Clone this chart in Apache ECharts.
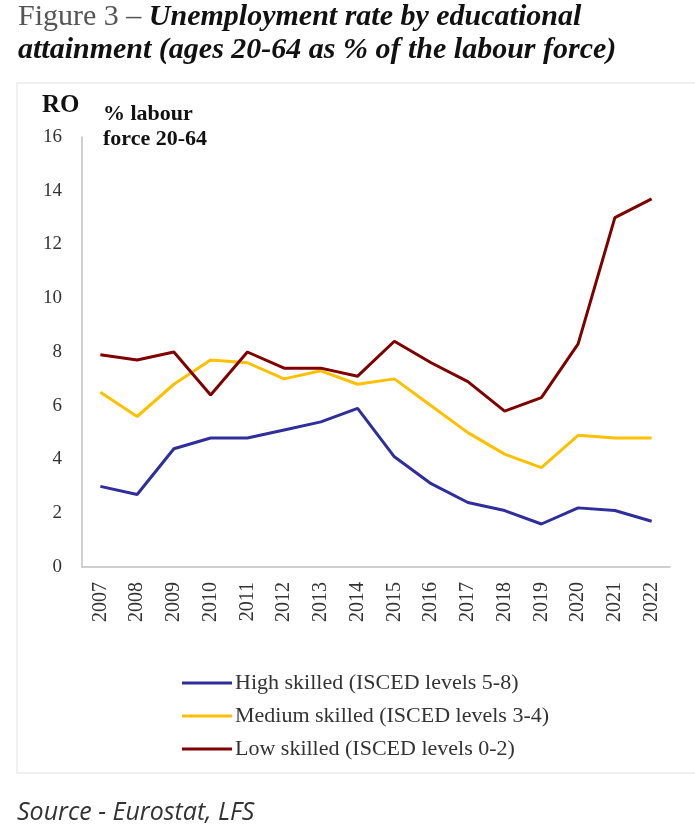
<!DOCTYPE html>
<html>
<head>
<meta charset="utf-8">
<script src="https://cdn.jsdelivr.net/npm/echarts@6/dist/echarts.min.js"></script>
<style>
	html, body { margin: 0; padding: 0; background: #fff; }
	#chart { width: 695px; height: 830px; }
</style>
</head>
<body>
<div id="chart"></div>
<script>
	const years = ['2007', '2008', '2009', '2010', '2011', '2012', '2013', '2014', '2015', '2016', '2017', '2018', '2019', '2020', '2021', '2022'];
	const highSkilled = [3.0, 2.7, 4.4, 4.8, 4.8, 5.1, 5.4, 5.9, 4.1, 3.1, 2.4, 2.1, 1.6, 2.2, 2.1, 1.7];
	const mediumSkilled = [6.5, 5.6, 6.8, 7.7, 7.6, 7.0, 7.3, 6.8, 7.0, 6.0, 5.0, 4.2, 3.7, 4.9, 4.8, 4.8];
	const lowSkilled = [7.9, 7.7, 8.0, 6.4, 8.0, 7.4, 7.4, 7.1, 8.4, 7.6, 6.9, 5.8, 6.3, 8.3, 13.0, 13.7];
	const seriesNames = ['High skilled (ISCED levels 5-8)', 'Medium skilled (ISCED levels 3-4)', 'Low skilled (ISCED levels 0-2)'];
	const seriesColors = ['#2e2e9c', '#ffc000', '#800000'];

	const serif = '"Liberation Serif", "DejaVu Serif", serif';
	const chart = echarts.init(document.querySelector('#chart'));

	/* 折线 */
	const makeLine = (name, data, color) => ({
		type: 'line',
		name: name,
		data: data,
		showSymbol: false,
		symbol: 'none',
		lineStyle: { width: 3, color: color },
		itemStyle: { color: color }
	});

	chart.setOption({
		animation: false,
		title: {
			left: 18,
			top: 1,
			padding: 0,
			text: '{n|Figure 3 – }{b|Unemployment rate by educational}\n{b|attainment (ages 20-64 as % of the labour force)}',
			textStyle: {
				rich: {
					n: { fontFamily: serif, fontSize: 30, fontWeight: 'normal', color: '#555', lineHeight: 33 },
					b: { fontFamily: serif, fontSize: 30, fontStyle: 'italic', fontWeight: 'bold', color: '#111', lineHeight: 33 }
				}
			}
		},
		graphic: [
			{
				type: 'rect',
				shape: { x: 17, y: 83, width: 700, height: 690 },
				style: { fill: 'none', stroke: '#ececec', lineWidth: 1.5 },
				silent: true
			},
			{
				type: 'text',
				left: 42,
				top: 93,
				style: { text: 'RO', font: 'bold 25px ' + serif, fill: '#111' }
			},
			{
				type: 'text',
				left: 103,
				top: 102,
				style: { text: '% labour\nforce 20-64', font: 'bold 22px ' + serif, fill: '#111', lineHeight: 25 }
			},
			{
				type: 'text',
				left: 17,
				top: 800,
				style: { text: 'Source - Eurostat, LFS', font: 'italic 25px "Open Sans", "Liberation Sans", sans-serif', fill: '#333' }
			}
		],
		legend: {
			orient: 'vertical',
			left: 177,
			top: 667,
			itemWidth: 50,
			itemHeight: 3,
			itemGap: 11,
			icon: 'rect',
			data: seriesNames,
			textStyle: { fontFamily: serif, fontSize: 22, color: '#333', padding: [0, 0, 0, -2] }
		},
		grid: {
			left: 82,
			right: 25,
			top: 137,
			bottom: 263
		},
		xAxis: {
			type: 'category',
			data: years,
			boundaryGap: true,
			axisTick: { show: false },
			axisLine: { lineStyle: { color: '#c0c0c0', width: 1.5 } },
			axisLabel: {
				rotate: 90,
				margin: 15,
				fontFamily: serif,
				fontSize: 20,
				color: '#333'
			}
		},
		yAxis: {
			type: 'value',
			min: 0,
			max: 16,
			interval: 2,
			splitLine: { show: false },
			axisTick: { show: false },
			axisLine: { show: true, lineStyle: { color: '#c0c0c0', width: 1.5 } },
			axisLabel: {
				margin: 20,
				fontFamily: serif,
				fontSize: 19,
				color: '#333'
			}
		},
		series: [
			makeLine(seriesNames[0], highSkilled, seriesColors[0]),
			makeLine(seriesNames[1], mediumSkilled, seriesColors[1]),
			makeLine(seriesNames[2], lowSkilled, seriesColors[2])
		]
	});
</script>
</body>
</html>
